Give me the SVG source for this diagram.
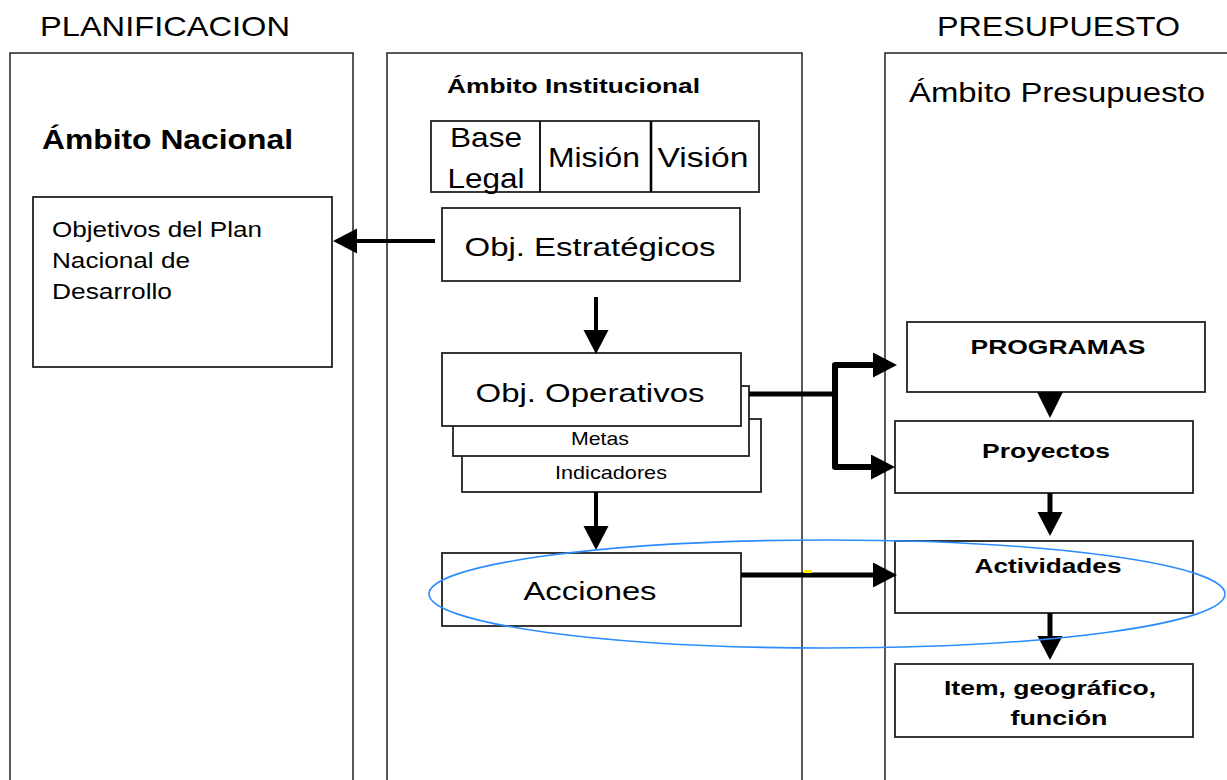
<svg xmlns="http://www.w3.org/2000/svg" width="1227" height="780" viewBox="0 0 1227 780">
<style>
  .panel { fill: #ffffff; stroke: #222; stroke-width: 1.5; }
  .box { fill: #ffffff; stroke: #222; stroke-width: 1.8; }
  .t { font-family: "Liberation Sans", Arial, sans-serif; fill: #000; }
  .b { font-weight: bold; }
  .c { text-anchor: middle; }
  .ln { stroke: #000; fill: none; }
</style>
<defs>
  <marker id="ah" markerUnits="userSpaceOnUse" markerWidth="26" markerHeight="26" viewBox="0 0 26 26" refX="4" refY="12.5" orient="auto">
    <path d="M0,0 L24,12.5 L0,25 z" fill="#000"/>
  </marker>
</defs>
<rect width="1227" height="780" fill="#ffffff"/>

<g id="titles">
  <text class="t" x="40" y="36" font-size="28" textLength="250" lengthAdjust="spacingAndGlyphs">PLANIFICACION</text>
  <text class="t" x="937" y="36" font-size="28" textLength="243" lengthAdjust="spacingAndGlyphs">PRESUPUESTO</text>
</g>

<g id="panel-nacional">
  <rect class="panel" x="10" y="53" width="343" height="740"/>
  <text class="t b" x="42" y="149" font-size="28" textLength="251" lengthAdjust="spacingAndGlyphs">Ámbito Nacional</text>
</g>
<g id="panel-institucional">
  <rect class="panel" x="387" y="53" width="415" height="740"/>
  <text class="t b" x="447" y="93" font-size="21" textLength="253" lengthAdjust="spacingAndGlyphs">Ámbito Institucional</text>
</g>
<g id="panel-presupuesto">
  <rect class="panel" x="885" y="53" width="360" height="740"/>
  <text class="t" x="909" y="102" font-size="27" textLength="296" lengthAdjust="spacingAndGlyphs">Ámbito Presupuesto</text>
</g>

<g id="node-objetivos-pnd">
  <rect class="box" x="33" y="197" width="299" height="170"/>
  <text class="t" x="52" y="237" font-size="22" textLength="210" lengthAdjust="spacingAndGlyphs">Objetivos del Plan</text>
  <text class="t" x="52" y="268" font-size="22" textLength="138" lengthAdjust="spacingAndGlyphs">Nacional de</text>
  <text class="t" x="52" y="299" font-size="22" textLength="120" lengthAdjust="spacingAndGlyphs">Desarrollo</text>
</g>

<g id="node-base-mision-vision">
  <rect class="box" x="431" y="121" width="328" height="71"/>
  <line class="ln" x1="540" y1="121" x2="540" y2="192" stroke-width="1.8"/>
  <line class="ln" x1="651" y1="121" x2="651" y2="192" stroke-width="2.6"/>
  <text class="t c" x="486" y="147" font-size="28" textLength="72" lengthAdjust="spacingAndGlyphs">Base</text>
  <text class="t c" x="486" y="188" font-size="28" textLength="77" lengthAdjust="spacingAndGlyphs">Legal</text>
  <text class="t c" x="594" y="167" font-size="27" textLength="92" lengthAdjust="spacingAndGlyphs">Misión</text>
  <text class="t c" x="703" y="167" font-size="27" textLength="91" lengthAdjust="spacingAndGlyphs">Visión</text>
</g>

<g id="node-obj-estrategicos">
  <rect class="box" x="442" y="208" width="298" height="73"/>
  <text class="t c" x="590" y="256" font-size="26" textLength="251" lengthAdjust="spacingAndGlyphs">Obj. Estratégicos</text>
</g>

<g id="node-indicadores">
  <rect class="box" x="462" y="419" width="299" height="73"/>
  <text class="t c" x="611" y="479" font-size="19" textLength="112" lengthAdjust="spacingAndGlyphs">Indicadores</text>
</g>
<g id="node-metas">
  <rect class="box" x="453" y="386" width="296" height="70"/>
  <text class="t c" x="600" y="445" font-size="19" textLength="58" lengthAdjust="spacingAndGlyphs">Metas</text>
</g>
<g id="node-obj-operativos">
  <rect class="box" x="442" y="353" width="299" height="73"/>
  <text class="t c" x="590" y="402" font-size="26" textLength="229" lengthAdjust="spacingAndGlyphs">Obj. Operativos</text>
</g>

<g id="node-acciones">
  <rect class="box" x="442" y="553" width="299" height="73"/>
  <text class="t c" x="590" y="600" font-size="26" textLength="133" lengthAdjust="spacingAndGlyphs">Acciones</text>
</g>

<g id="node-programas">
  <rect class="box" x="907" y="322" width="298" height="70"/>
  <text class="t b c" x="1058" y="354" font-size="21" textLength="175" lengthAdjust="spacingAndGlyphs">PROGRAMAS</text>
</g>
<g id="node-proyectos">
  <rect class="box" x="895" y="421" width="298" height="72"/>
  <text class="t b c" x="1046" y="458" font-size="21" textLength="128" lengthAdjust="spacingAndGlyphs">Proyectos</text>
</g>
<g id="node-actividades">
  <rect class="box" x="895" y="541" width="298" height="72"/>
  <text class="t b c" x="1048" y="573" font-size="21" textLength="147" lengthAdjust="spacingAndGlyphs">Actividades</text>
</g>
<g id="node-item">
  <rect class="box" x="895" y="664" width="298" height="73"/>
  <text class="t b c" x="1050" y="695" font-size="21" textLength="212" lengthAdjust="spacingAndGlyphs">Item, geográfico,</text>
  <text class="t b c" x="1059" y="725" font-size="21" textLength="97" lengthAdjust="spacingAndGlyphs">función</text>
</g>

<g id="connectors">
  <line class="ln" x1="435" y1="241" x2="353" y2="241" stroke-width="4" marker-end="url(#ah)"/>
  <line class="ln" x1="596" y1="297" x2="596" y2="334" stroke-width="4" marker-end="url(#ah)"/>
  <line class="ln" x1="596" y1="492" x2="596" y2="530" stroke-width="4" marker-end="url(#ah)"/>
  <polyline class="ln" points="749,394 835,394" stroke-width="5"/>
  <polyline class="ln" points="877,365 835,365 835,467 875,467" stroke-width="6" stroke-linejoin="round" marker-end="url(#ah)"/>
  <line class="ln" x1="835" y1="365" x2="877" y2="365" stroke-width="6" marker-end="url(#ah)"/>
  <polygon points="1037,392 1063,392 1050,418" fill="#000"/>
  <line class="ln" x1="1050" y1="493" x2="1050" y2="516" stroke-width="5" marker-end="url(#ah)"/>
  <line class="ln" x1="741" y1="575" x2="877" y2="575" stroke-width="5" marker-end="url(#ah)"/>
  <line class="ln" x1="1050" y1="613" x2="1050" y2="640" stroke-width="5" marker-end="url(#ah)"/>
  <rect x="804" y="570" width="8" height="3" fill="#ffee00"/>
</g>

<g id="highlight">
  <ellipse cx="827" cy="594" rx="398" ry="54" fill="none" stroke="#2b8cff" stroke-width="1.6"/>
</g>
</svg>
